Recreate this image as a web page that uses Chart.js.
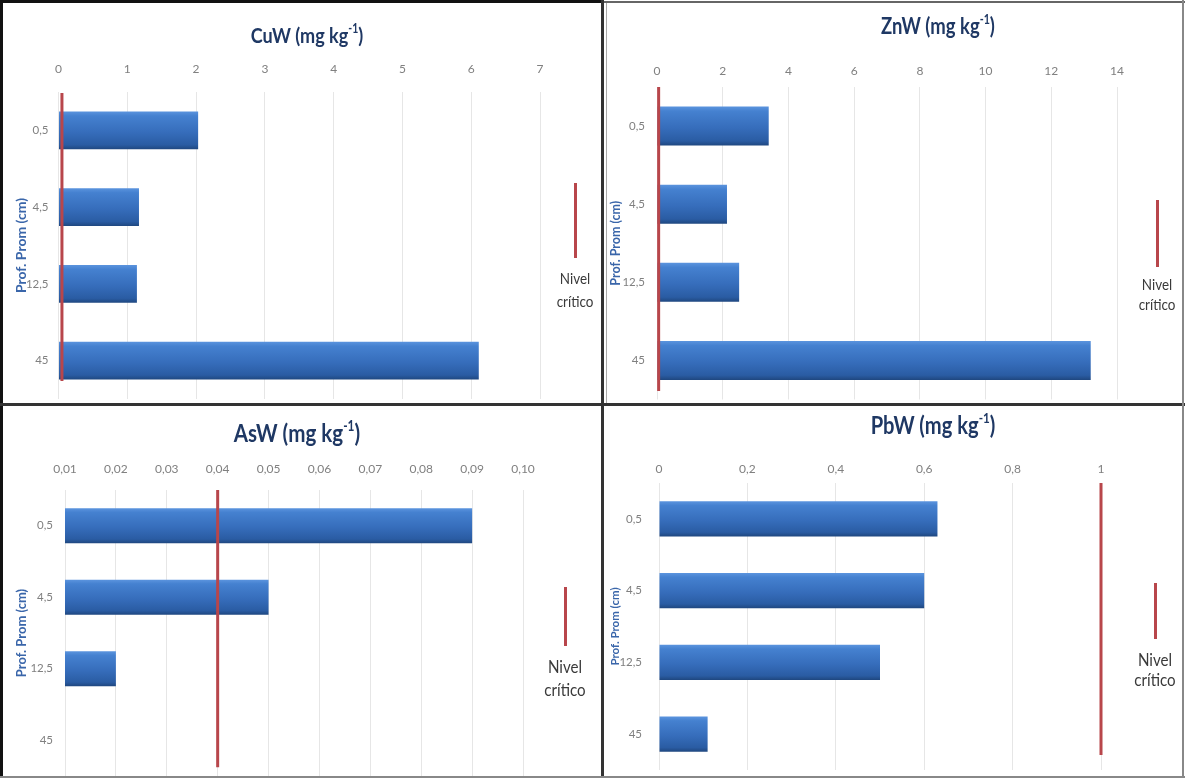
<!DOCTYPE html>
<html>
<head>
<meta charset="utf-8">
<title>Metales por profundidad</title>
<script src="https://cdn.jsdelivr.net/npm/chart.js@4.4.1/dist/chart.umd.min.js"></script>
<style>
  html, body { margin: 0; padding: 0; background: #fff; }
  #page { position: relative; width: 1185px; height: 778px; overflow: hidden; background: #fff;
          font-family: Lato, "Open Sans", sans-serif; }
  #page canvas { position: absolute; }
  .ttl { position: absolute; white-space: nowrap; font-weight: 700; color: #1F3864;
         transform: translate(-50%, -50%) scaleX(0.84); line-height: 1; }
  .ttl sup { font-size: 0.58em; position: relative; top: -0.15em; vertical-align: top; }
  .leg { position: absolute; text-align: center; color: #3a3a3a; white-space: nowrap;
         transform: translateX(-50%) scaleX(0.84); }
  .seg { position: absolute; width: 3px; background: #B8464B; }
  .rule { position: absolute; }
</style>
</head>
<body>
<div id="page"></div>
<script>
// Depth classes (cm) shared by the four panels
const categories = ['0,5', '4,5', '12,5', '45'];

// Water-extractable concentrations (mg kg-1) per depth
const cuValues = [2.03, 1.17, 1.14, 6.11];
const znValues = [3.4, 2.13, 2.5, 13.2];
const asValues = [0.09, 0.05, 0.02, null];
const pbValues = [0.63, 0.60, 0.50, 0.11];

// Critical levels (mg kg-1)
const cuCritical = 0.05;
const znCritical = 0.05;
const asCritical = 0.04;
const pbCritical = 1;

// Value axis ticks and their labels
const cuTicks = [0, 1, 2, 3, 4, 5, 6, 7];
const cuTickLabels = ['0', '1', '2', '3', '4', '5', '6', '7'];
const znTicks = [0, 2, 4, 6, 8, 10, 12, 14];
const znTickLabels = ['0', '2', '4', '6', '8', '10', '12', '14'];
const asTicks = [0.01, 0.02, 0.03, 0.04, 0.05, 0.06, 0.07, 0.08, 0.09, 0.10];
const asTickLabels = ['0,01', '0,02', '0,03', '0,04', '0,05', '0,06', '0,07', '0,08', '0,09', '0,10'];
const pbTicks = [0, 0.2, 0.4, 0.6, 0.8, 1];
const pbTickLabels = ['0', '0,2', '0,4', '0,6', '0,8', '1'];

const RED = '#B8464B';

// Panel layout (canvas box, paddings, axis sizes, title/legend placement)
const panels = [
  { element: 'CuW', values: cuValues, critical: cuCritical, ticks: cuTicks, tickLabels: cuTickLabels,
    box: { left: 0, top: 0, width: 602, height: 404 },
    pad: { left: 9, top: 50, right: 62, bottom: 5 }, yWidth: 49.5, xHeight: 42, xTickPad: 15.2, yTickPad: 10,
    barFrac: 0.495, lineSpan: [0.059, 0.997], yTitleSize: 14,
    title: { x: 307, y: 36, size: 21.5 },
    legend: { x: 575, segTop: 183, segBottom: 258, textTop: 266, size: 16, lh: 23 } },
  { element: 'ZnW', values: znValues, critical: znCritical, ticks: znTicks, tickLabels: znTickLabels,
    box: { left: 604, top: 0, width: 579, height: 404 },
    pad: { left: 0, top: 45, right: 66, bottom: 4.5 }, yWidth: 53, xHeight: 42, xTickPad: 8.2, yTickPad: 12,
    barFrac: 0.5, lineSpan: [0.027, 1.0], yTitleSize: 12.5,
    title: { x: 938, y: 26, size: 22 },
    legend: { x: 1157, segTop: 200, segBottom: 267, textTop: 274, size: 16, lh: 20 } },
  { element: 'AsW', values: asValues, critical: asCritical, ticks: asTicks, tickLabels: asTickLabels,
    box: { left: 0, top: 406, width: 602, height: 372 },
    pad: { left: 10, top: 42, right: 79, bottom: 2 }, yWidth: 55, xHeight: 42, xTickPad: 13.2, yTickPad: 12,
    barFrac: 0.49, lineSpan: [0.031, 1.0], yTitleSize: 13,
    title: { x: 297, y: 433, size: 24.5 },
    legend: { x: 565, segTop: 587, segBottom: 646, textTop: 655, size: 18, lh: 23 } },
  { element: 'PbW', values: pbValues, critical: pbCritical, ticks: pbTicks, tickLabels: pbTickLabels,
    box: { left: 604, top: 406, width: 579, height: 372 },
    pad: { left: 0, top: 35, right: 82, bottom: 8 }, yWidth: 55, xHeight: 42, xTickPad: 6.2, yTickPad: 17,
    barFrac: 0.49, lineSpan: [0.052, 1.0], yTitleSize: 11.5,
    title: { x: 933, y: 425, size: 24 },
    legend: { x: 1155, segTop: 583, segBottom: 639, textTop: 649, size: 18, lh: 20 } }
];

Chart.defaults.font.family = 'Lato, "Open Sans", sans-serif';
Chart.defaults.color = '#808080';

// Vertical gradient for each bar, following the bar's own band
function barFill(ctx) {
  const solid = '#3A70BE';
  if (ctx.type !== 'data') return solid;
  const chart = ctx.chart;
  const ys = chart.scales.y;
  if (!ys || !chart.chartArea) return solid;
  const n = chart.data.labels.length;
  const band = (ys.bottom - ys.top) / n;
  const h = band * ctx.dataset.barPercentage;
  const c = ys.getPixelForValue(ctx.dataIndex);
  const g = chart.ctx.createLinearGradient(0, c - h / 2, 0, c + h / 2);
  g.addColorStop(0, '#5B94DE');
  g.addColorStop(0.12, '#4581D0');
  g.addColorStop(0.55, '#366DBB');
  g.addColorStop(0.88, '#2A5CA3');
  g.addColorStop(1, '#1F477F');
  return g;
}

const page = document.getElementById('page');

function addDiv(cls, style, html) {
  const d = document.createElement('div');
  d.className = cls;
  Object.assign(d.style, style);
  if (html !== undefined) d.innerHTML = html;
  page.appendChild(d);
  return d;
}

function makePanel(p) {
  const canvas = document.createElement('canvas');
  canvas.width = p.box.width;
  canvas.height = p.box.height;
  canvas.style.left = p.box.left + 'px';
  canvas.style.top = p.box.top + 'px';
  canvas.style.width = p.box.width + 'px';
  canvas.style.height = p.box.height + 'px';
  page.appendChild(canvas);

  new Chart(canvas, {
    type: 'bar',
    data: {
      labels: categories,
      datasets: [
        {
          type: 'line',
          label: 'Nivel crítico',
          data: [{ x: p.critical, y: p.lineSpan[0] }, { x: p.critical, y: p.lineSpan[1] }],
          xAxisID: 'x',
          yAxisID: 'yl',
          borderColor: RED,
          borderWidth: 3,
          pointRadius: 0,
          tension: 0,
          clip: false,
          order: 0
        },
        {
          type: 'bar',
          label: p.element,
          data: p.values,
          xAxisID: 'x',
          yAxisID: 'y',
          backgroundColor: barFill,
          borderWidth: 0,
          grouped: false,
          categoryPercentage: 1,
          barPercentage: p.barFrac,
          order: 1
        }
      ]
    },
    options: {
      indexAxis: 'y',
      responsive: false,
      animation: false,
      devicePixelRatio: 1,
      events: [],
      layout: { padding: p.pad },
      plugins: { legend: { display: false }, tooltip: { enabled: false } },
      scales: {
        x: {
          type: 'linear',
          position: 'top',
          min: p.ticks[0],
          max: p.ticks[p.ticks.length - 1],
          afterBuildTicks: s => { s.ticks = p.ticks.map(v => ({ value: v })); },
          afterFit: s => { s.height = p.xHeight; },
          grid: { color: '#E6E6E6', lineWidth: 1, drawTicks: false },
          border: { display: false },
          ticks: { padding: p.xTickPad, font: { size: 12 }, color: '#808080',
                   callback: (v, i) => p.tickLabels[i] }
        },
        y: {
          type: 'category',
          position: 'left',
          offset: true,
          afterFit: s => { s.width = p.yWidth; s.paddingTop = 0; s.paddingBottom = 0; },
          grid: { display: false, drawTicks: false },
          border: { display: false },
          ticks: { padding: p.yTickPad, font: { size: 11.5 }, color: '#808080' },
          title: { display: true, text: 'Prof. Prom (cm)', color: '#3A66AA',
                   font: { size: p.yTitleSize, weight: 'bold' }, padding: { top: 4, bottom: 4 } }
        },
        yl: { type: 'linear', display: false, offset: false, min: 0, max: 1,
              grid: { offset: false } }
      }
    }
  });

  // Panel heading
  addDiv('ttl', { left: p.title.x + 'px', top: p.title.y + 'px', fontSize: p.title.size + 'px' },
         p.element + ' (mg kg<sup>-1</sup>)');

  // Legend: short red stroke with its label underneath
  addDiv('seg', { left: (p.legend.x - 1.5) + 'px', top: p.legend.segTop + 'px',
                  height: (p.legend.segBottom - p.legend.segTop) + 'px' });
  addDiv('leg', { left: p.legend.x + 'px', top: p.legend.textTop + 'px',
                  fontSize: p.legend.size + 'px', lineHeight: p.legend.lh + 'px' },
         'Nivel<br>crítico');
}

panels.forEach(makePanel);

// Frame and dividers between the four panels
addDiv('rule', { left: '0px', top: '0px', width: '3px', height: '778px', background: '#111' });
addDiv('rule', { left: '0px', top: '0px', width: '604px', height: '3px', background: '#111' });
addDiv('rule', { left: '604px', top: '1px', width: '581px', height: '2px', background: '#666' });
addDiv('rule', { left: '601px', top: '0px', width: '3px', height: '778px', background: '#333' });
addDiv('rule', { left: '606px', top: '3px', width: '1px', height: '400px', background: '#aaa' });
addDiv('rule', { left: '0px', top: '403px', width: '1185px', height: '3px', background: '#333' });
addDiv('rule', { left: '1182px', top: '0px', width: '2px', height: '778px', background: '#888' });
addDiv('rule', { left: '0px', top: '776px', width: '1185px', height: '2px', background: '#888' });
</script>
</body>
</html>
